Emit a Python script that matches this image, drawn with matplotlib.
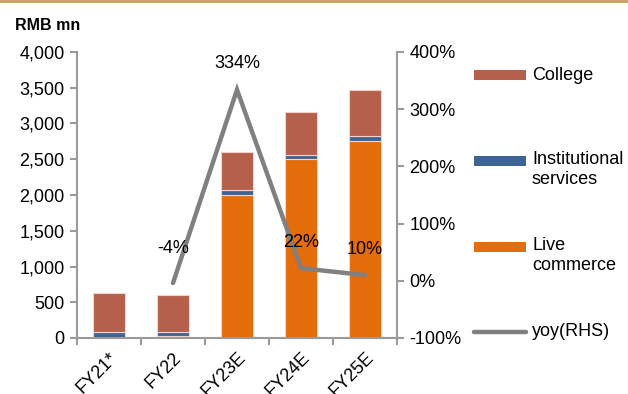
import matplotlib
matplotlib.use('Agg')
import matplotlib.pyplot as plt
from matplotlib.patches import Rectangle
from matplotlib.lines import Line2D
from matplotlib.ticker import FuncFormatter, MultipleLocator

plt.rcParams['font.family'] = ['Liberation Sans', 'DejaVu Sans']

# Revenue by segment (RMB mn) and total yoy growth
years = ['FY21*', 'FY22', 'FY23E', 'FY24E', 'FY25E']
live_commerce = [0, 30, 2000, 2500, 2750]
institutional = [88, 55, 65, 65, 70]
college = [537, 515, 540, 600, 655]
yoy = [None, -4, 334, 22, 10]
yoy_labels = ['', '-4%', '334%', '22%', '10%']

c_college = '#B5604A'
c_inst = '#3D6494'
c_live = '#E46C0A'
c_line = '#808080'
c_axis = '#9A9A9A'

fig = plt.figure(figsize=(6.28, 3.94), dpi=100)
ax = fig.add_axes([77 / 628, 1 - 338 / 394, 320 / 628, 286 / 394])

x = list(range(len(years)))
bottom2 = [a + b for a, b in zip(live_commerce, institutional)]
edge = dict(edgecolor='#F3D3CC', linewidth=0.8, width=0.5)
ax.bar(x, live_commerce, color=c_live, **edge)
ax.bar(x, institutional, bottom=live_commerce, color=c_inst, **edge)
ax.bar(x, college, bottom=bottom2, color=c_college, **edge)

ax.set_xlim(-0.5, len(years) - 0.5)
ax.set_ylim(0, 4000)
ax.yaxis.set_major_locator(MultipleLocator(500))
ax.yaxis.set_major_formatter(FuncFormatter(lambda v, p: f'{v:,.0f}'))
ax.set_xticks(x)
ax.set_xticklabels(years, rotation=45, ha='right', rotation_mode='anchor')
ax.set_xticks([i - 0.5 for i in range(len(years) + 1)], minor=True)
ax.tick_params(axis='x', which='major', length=0, pad=8, labelsize=13)
ax.tick_params(axis='x', which='minor', length=5, color=c_axis, width=1.5)
ax.tick_params(axis='y', length=5, color=c_axis, width=1.5, labelsize=13, pad=4)

for s in ['top', 'right']:
    ax.spines[s].set_visible(False)
for s in ['left', 'bottom']:
    ax.spines[s].set_color(c_axis)
    ax.spines[s].set_linewidth(1.5)

# yoy growth on the right axis
ax2 = ax.twinx()
ax2.set_ylim(-100, 400)
ax2.yaxis.set_major_locator(MultipleLocator(100))
ax2.yaxis.set_major_formatter(FuncFormatter(lambda v, p: f'{v:.0f}%'))
ax2.tick_params(axis='y', length=5, color=c_axis, width=1.5, labelsize=13, pad=4)
for s in ['top', 'left', 'bottom']:
    ax2.spines[s].set_visible(False)
ax2.spines['right'].set_color(c_axis)
ax2.spines['right'].set_linewidth(1.5)

yx = [i for i, v in zip(x, yoy) if v is not None]
yv = [v for v in yoy if v is not None]
ax2.plot(yx, yv, color=c_line, linewidth=3.2, solid_capstyle='round',
         solid_joinstyle='miter')
for i, v, lab in zip(x, yoy, yoy_labels):
    if v is None:
        continue
    dy = 35 if v < 0 else 26
    ax2.annotate(lab, (i, v), xytext=(0, dy), textcoords='offset pixels',
                 ha='center', va='center', fontsize=13)

# title and top rule
fig.text(15 / 628, 1 - 25 / 394, 'RMB mn', fontsize=11.5, fontweight='bold',
         va='center', ha='left')
fig.add_artist(Rectangle((0, 1 - 3 / 394), 1, 3 / 394, transform=fig.transFigure,
                         color='#C8A862', lw=0))


# legend, drawn in figure pixels
def px(xp, yp):
    return xp / 628, 1 - yp / 394


legend_items = [
    ('bar', c_college, 'College', 75),
    ('bar', c_inst, 'Institutional\nservices', 161),
    ('bar', c_live, 'Live\ncommerce', 247),
    ('line', c_line, 'yoy(RHS)', 332),
]
for kind, col, lab, yp in legend_items:
    if kind == 'bar':
        x0, y0 = px(474, yp + 5)
        fig.add_artist(Rectangle((x0, y0), 52 / 628, 10 / 394,
                                 transform=fig.transFigure, color=col, lw=0))
    else:
        xa, ya = px(474, yp)
        xb, _ = px(526, yp)
        fig.add_artist(Line2D([xa, xb], [ya, ya], transform=fig.transFigure,
                              color=col, linewidth=3.2, solid_capstyle='round'))
    if '\n' in lab:
        tx, ty = px(532, yp - 10)
        fig.text(tx, ty, lab, fontsize=13, va='top', ha='left', linespacing=1.2)
    else:
        tx, ty = px(532, yp)
        fig.text(tx, ty, lab, fontsize=13, va='center', ha='left')

fig.savefig('out.png', dpi=100)
